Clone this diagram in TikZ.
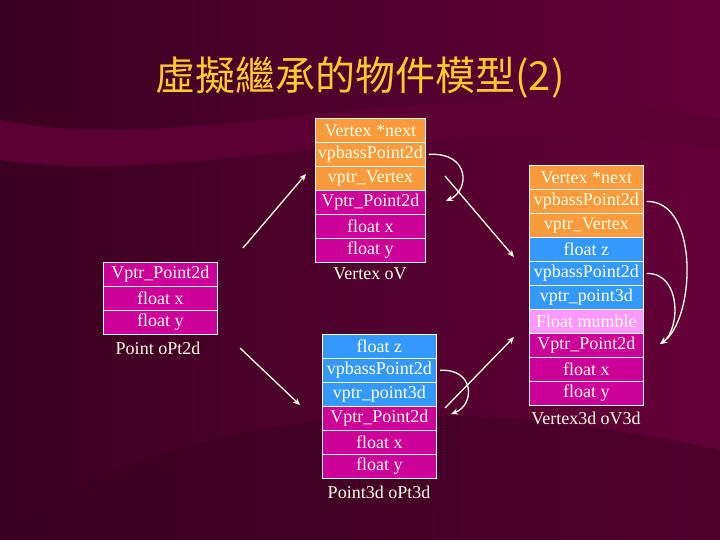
\documentclass[tikz,border=0pt]{standalone}
\usepackage{fontspec}
\setmainfont{Liberation Serif}
\newfontfamily\cjk{Noto Sans CJK TC}
\definecolor{bgA}{HTML}{3A0020}
\definecolor{bgB}{HTML}{640038}
\definecolor{cor}{HTML}{F99B3C}
\definecolor{cbl}{HTML}{3399FF}
\definecolor{cpk}{HTML}{FF99FF}
\definecolor{cmg}{HTML}{CC0099}
\definecolor{ctx}{HTML}{FFFFE6}
\definecolor{ttl}{HTML}{FFC830}
\tikzset{x=1pt,y=-1pt,
 cell/.style={draw=white,line width=0.8pt,minimum height=24pt,inner sep=0pt,text=ctx,font=\fontsize{18}{18}\selectfont,anchor=north west},
 lbl/.style={text=ctx,font=\fontsize{18}{18}\selectfont},
 arr/.style={draw=ctx,line width=1.3pt,-{Stealth[length=7pt,width=6pt]}}}
\usetikzlibrary{arrows.meta}
\begin{document}
\begin{tikzpicture}
\useasboundingbox (0,0) rectangle (720,540);
\shade[left color=bgA,right color=bgB] (0,0) rectangle (720,540);
\fill[bgB!80!bgA] (0,120) .. controls (200,160) and (450,60) .. (720,120) -- (720,150) .. controls (450,100) and (200,190) .. (0,160) -- cycle;
\fill[bgA,opacity=0.5] (0,540) .. controls (150,420) and (400,380) .. (720,450) -- (720,540) -- cycle;
\node[text=ttl,font=\cjk\fontsize{40}{42}\selectfont] (title) at (360,78) {虛擬繼承的物件模型(2)};
% oV
\node[cell,fill=cor,minimum width=110pt] (v1) at (315,118) {Vertex *next};
\node[cell,fill=cor,minimum width=110pt] (v2) at (315,142) {vpbassPoint2d};
\node[cell,fill=cor,minimum width=110pt] (v3) at (315,166) {vptr\_Vertex};
\node[cell,fill=cmg,minimum width=110pt] (v4) at (315,190) {Vptr\_Point2d};
\node[cell,fill=cmg,minimum width=110pt] (v5) at (315,214) {float x};
\node[cell,fill=cmg,minimum width=110pt] (v6) at (315,238) {float y};
\node[lbl] (vl) at (370,274) {Vertex oV};
% oPt2d
\node[cell,fill=cmg,minimum width=114pt] (p1) at (103,262) {Vptr\_Point2d};
\node[cell,fill=cmg,minimum width=114pt] (p2) at (103,286) {float x};
\node[cell,fill=cmg,minimum width=114pt] (p3) at (103,310) {float y};
\node[lbl] (pl) at (158,348) {Point oPt2d};
% oPt3d
\node[cell,fill=cbl,minimum width=114pt] (q1) at (322,334) {float z};
\node[cell,fill=cbl,minimum width=114pt] (q2) at (322,358) {vpbassPoint2d};
\node[cell,fill=cbl,minimum width=114pt] (q3) at (322,382) {vptr\_point3d};
\node[cell,fill=cmg,minimum width=114pt] (q4) at (322,406) {Vptr\_Point2d};
\node[cell,fill=cmg,minimum width=114pt] (q5) at (322,430) {float x};
\node[cell,fill=cmg,minimum width=114pt] (q6) at (322,454) {float y};
\node[lbl] (ql) at (379,492) {Point3d oPt3d};
% oV3d
\node[cell,fill=cor,minimum width=114pt] (w1) at (529,165) {Vertex *next};
\node[cell,fill=cor,minimum width=114pt] (w2) at (529,189) {vpbassPoint2d};
\node[cell,fill=cor,minimum width=114pt] (w3) at (529,213) {vptr\_Vertex};
\node[cell,fill=cbl,minimum width=114pt] (w4) at (529,237) {float z};
\node[cell,fill=cbl,minimum width=114pt] (w5) at (529,261) {vpbassPoint2d};
\node[cell,fill=cbl,minimum width=114pt] (w6) at (529,285) {vptr\_point3d};
\node[cell,fill=cpk,minimum width=114pt] (w7) at (529,309) {Float mumble};
\node[cell,fill=cmg,minimum width=114pt] (w8) at (529,333) {Vptr\_Point2d};
\node[cell,fill=cmg,minimum width=114pt] (w9) at (529,357) {float x};
\node[cell,fill=cmg,minimum width=114pt] (w10) at (529,381) {float y};
\node[lbl] (wl) at (586,418) {Vertex3d oV3d};
% straight arrows
\coordinate (a1s) at (243,248); \coordinate (a1e) at (306,174);
\coordinate (a2s) at (445,176); \coordinate (a2e) at (514,257);
\coordinate (a3s) at (240,348); \coordinate (a3e) at (300,405);
\coordinate (a4s) at (445,408); \coordinate (a4e) at (514,337);
\draw[arr] (a1s) -- (a1e);
\draw[arr] (a2s) -- (a2e);
\draw[arr] (a3s) -- (a3e);
\draw[arr] (a4s) -- (a4e);
% curved arrows
\coordinate (c1) at (446,201);
\draw[arr] (v2.east)++(3,0) .. controls (470,152) and (470,190) .. (c1);
\coordinate (c2) at (451,414);
\draw[arr] (q2.east)++(3,0) .. controls (475,368) and (475,405) .. (c2);
\coordinate (c3) at (660,344);
\draw[arr] (w2.east)++(3,0) .. controls (700,201) and (695,320) .. (c3);
\draw[arr] (w5.east)++(3,0) .. controls (682,273) and (680,330) .. (c3);
\end{tikzpicture}
\end{document}
